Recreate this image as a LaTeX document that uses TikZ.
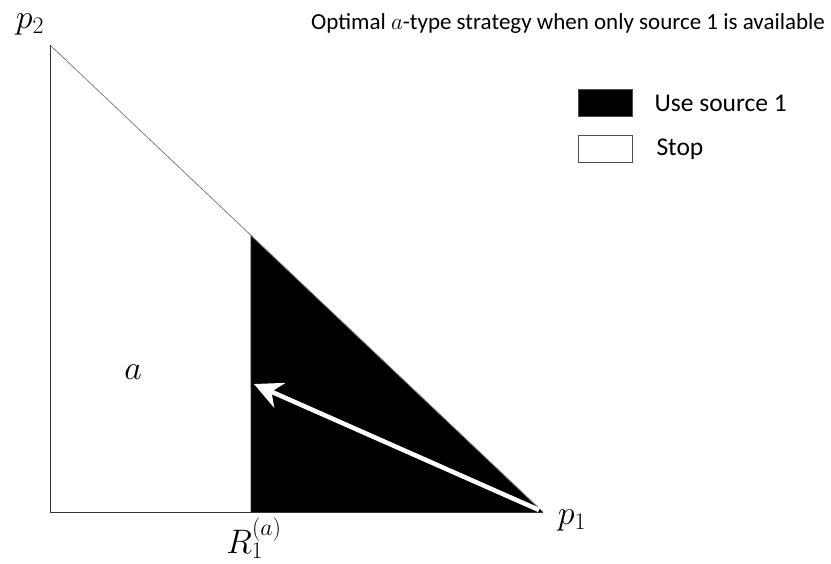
\documentclass[tikz,border=0pt]{standalone}
\usepackage{fix-cm}
\usepackage{fontspec}
\setmainfont{Carlito}
\usepackage{tikz}
\usetikzlibrary{arrows.meta, positioning, calc}

\begin{document}
\begin{tikzpicture}[
    x=1pt, y=-1pt,
    lab/.style={font=\fontsize{25.5}{28}\selectfont, inner sep=0pt},
    mlab/.style={font=\fontsize{34}{38}\selectfont, inner sep=0pt},
    key/.style={draw=black!70, line width=0.6pt, minimum width=54pt, minimum height=27pt, inner sep=0pt},
    arr/.style={-{Stealth[length=28pt, width=27pt, inset=9pt]}, white, line width=4.5pt}
]
    \useasboundingbox (0,0) rectangle (831,563);
    % corners of the region
    \coordinate (origin) at (50,512);
    \coordinate (top) at (50,45);
    \coordinate (right) at (543,512);
    \coordinate (thr) at (251,512);
    \coordinate (thrtop) at ($(top)!{(251-50)/493}!(right)$);
    % use source 1 region
    \fill[black] (thr) -- (thrtop) -- (right) -- cycle;
    \draw[black!50, line width=0.8pt] (top) -- (right);
    \draw[black!80, line width=0.8pt] (top) -- (origin) -- (right);
    \draw[black!80, line width=0.8pt] (thr) -- (thrtop);
    \coordinate (tip) at (254,384);
    \draw[arr] ($(right)+(-4,-2)$) coordinate (tail) -- (tip);
    % labels
    \node[mlab] (ptwo) at (30,24) {$p_2$};
    \node[mlab] (pone) at (572,520) {$p_1$};
    \node[mlab] (rlab) at (254,538) {$R_1^{(a)}$};
    \node[mlab] (alab) at (133,372) {$a$};
    \node[lab, font=\fontsize{23}{26}\selectfont] (title) at (568,23) {Optimal $a$-type strategy when only source 1 is available};
    % legend
    \node[key, fill=black] (kuse) at (605,103) {};
    \node[key, fill=white] (kstop) at (605,149) {};
    \node[lab, anchor=west, right=22pt of kuse] (tuse) {Use source 1};
    \node[lab, anchor=west, right=24pt of kstop] (tstop) {Stop};
\end{tikzpicture}
\end{document}
